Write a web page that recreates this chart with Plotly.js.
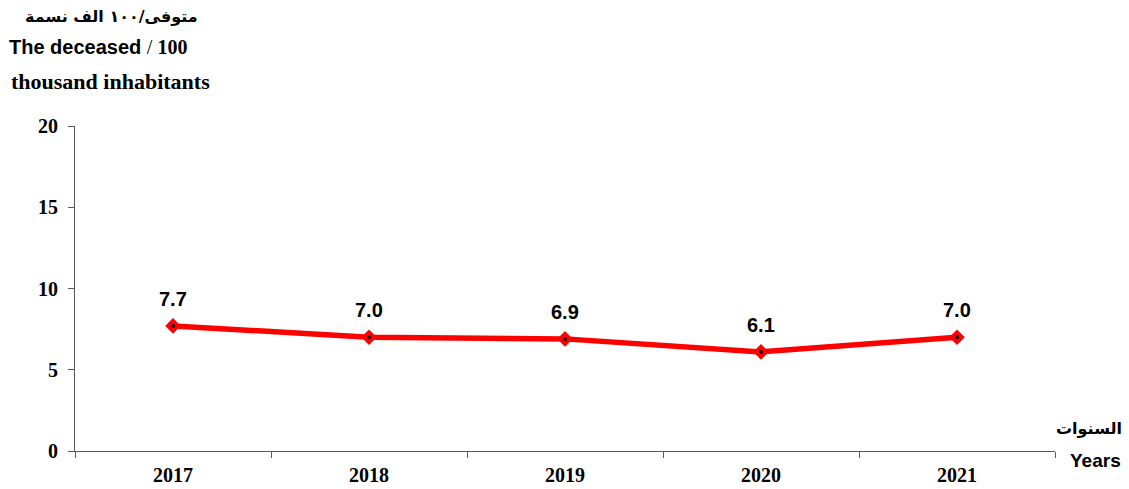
<!DOCTYPE html>
<html>
<head>
<meta charset="utf-8">
<script src="https://cdn.plot.ly/plotly-3.0.1.min.js"></script>
<style>html,body{margin:0;padding:0;background:#fff;}#chart{width:1129px;height:489px;}</style>
</head>
<body>
<div id="chart"></div>
<script>
const years = ['2017', '2018', '2019', '2020', '2021'];
const deceased = [7.7, 7.0, 6.9, 6.1, 7.0];
const valueLabels = ['7.7', '7.0', '6.9', '6.1', '7.0'];
const yTicks = [0, 5, 10, 15, 20];

const serif = '"Liberation Serif", "Times New Roman", serif';
const sans = '"Liberation Sans", Arial, sans-serif';

const traces = [
  {
    x: years, y: deceased, type: 'scatter', mode: 'lines+markers',
    line: {color: '#ff0000', width: 5.5},
    marker: {symbol: 'diamond', color: '#ff0000', size: 12},
    hoverinfo: 'skip', showlegend: false
  },
  {
    x: years, y: deceased, type: 'scatter', mode: 'markers',
    marker: {symbol: 'circle', color: '#200000', size: 4},
    hoverinfo: 'skip', showlegend: false
  }
];

const annotations = years.map((yr, i) => ({
  x: i, y: deceased[i], xref: 'x', yref: 'y',
  text: '<b>' + valueLabels[i] + '</b>', showarrow: false,
  yshift: 27, font: {family: sans, size: 20, color: '#000'}
}));

const extraTexts = [
  {text: '<b>متوفى/١٠٠ الف نسمة</b>', px: 200, py: 16, anchor: 'right', family: '"DejaVu Sans", sans-serif', size: 16},
  {text: '<b>The deceased </b><span style="font-family:Liberation Serif">/ <b>100</b></span>', px: 7, py: 47, anchor: 'left', family: sans, size: 20},
  {text: '<b>thousand inhabitants</b>', px: 9, py: 82, anchor: 'left', family: serif, size: 22},
  {text: '<b>السنوات</b>', px: 1124, py: 428, anchor: 'right', family: '"DejaVu Sans", sans-serif', size: 16},
  {text: '<b>Years</b>', px: 1123, py: 460, anchor: 'right', family: sans, size: 19}
];
extraTexts.forEach(t => {
  annotations.push({
    xref: 'paper', yref: 'paper',
    x: (t.px - 75) / (1055 - 75),
    y: (451 - t.py) / (451 - 126),
    xanchor: t.anchor, yanchor: 'middle',
    text: t.text, showarrow: false,
    font: {family: t.family, size: t.size, color: '#000'}
  });
});

const layout = {
  width: 1129, height: 489,
  margin: {l: 75, r: 74, t: 126, b: 38, pad: 0},
  paper_bgcolor: '#ffffff', plot_bgcolor: '#ffffff',
  showlegend: false,
  xaxis: {
    type: 'category', range: [-0.5, 4.5],
    tickson: 'boundaries', ticks: 'outside', ticklen: 6, tickcolor: '#595959', tickwidth: 1,
    showline: true, linecolor: '#595959', linewidth: 1,
    showgrid: false, zeroline: false,
    ticklabelstandoff: 6,
    tickfont: {family: serif, size: 20, color: '#000', weight: 'bold'},
    fixedrange: true
  },
  yaxis: {
    range: [0, 20], tickvals: yTicks, ticktext: yTicks.map(String),
    ticks: 'outside', ticklen: 6, tickcolor: '#595959', tickwidth: 1,
    showline: true, linecolor: '#595959', linewidth: 1,
    showgrid: false, zeroline: false,
    ticklabelstandoff: 6,
    tickfont: {family: serif, size: 20, color: '#000', weight: 'bold'},
    fixedrange: true
  },
  annotations: annotations
};

Plotly.newPlot('chart', traces, layout, {staticPlot: true, displayModeBar: false});
</script>
</body>
</html>
